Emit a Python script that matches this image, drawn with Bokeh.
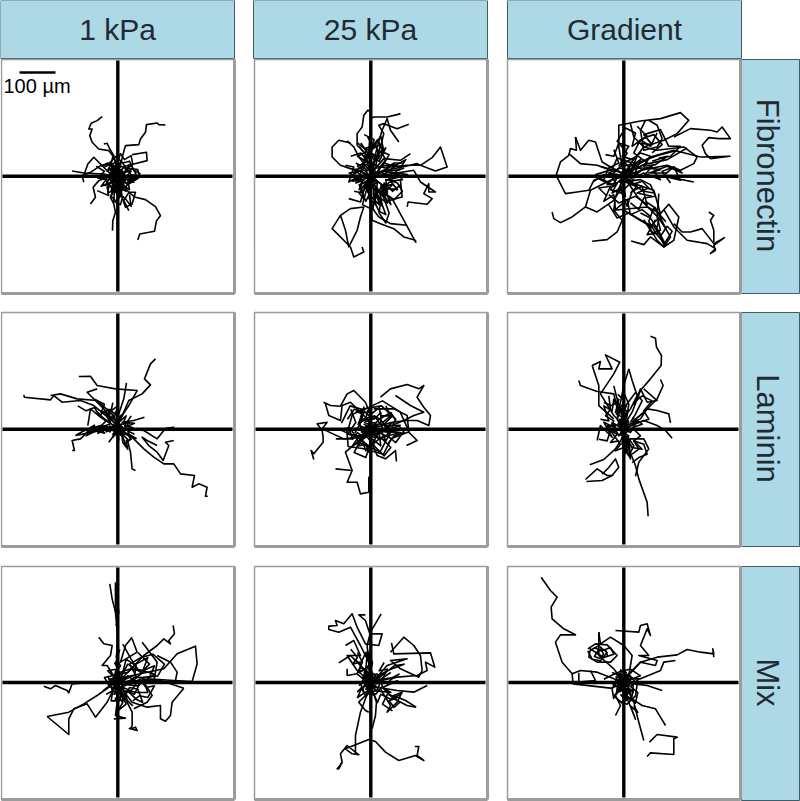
from bokeh.plotting import figure
from bokeh.models import Range1d
from bokeh.core.properties import value
from bokeh.embed import file_html
from bokeh.resources import INLINE

COLUMNS = ["1 kPa", "25 kPa", "Gradient"]
ROWS = ["Fibronectin", "Laminin", "Mix"]

# Track displacements from the start point; 108 units = 100 um, y grows downward
TRACKS_A = [
 [(-47,-179),(-62,-167),(-80,-159),(-87,-142),(-77,-142),(-84,-122),(-77,-102),(-57,-82),(-27,-77),(-12,-57),(0,-27),(5,0)],
 [(143,-154),(123,-155),(118,-160),(86,-155),(83,-132),(68,-112),(63,-95),(23,-92),(16,-67),(6,-27),(0,0)],
 [(60,191),(66,173),(110,165),(116,133),(128,118),(113,91),(83,70),(53,63),(33,48),(13,23),(0,0)],
 [(-16,163),(-15,133),(-7,108),(-12,83),(-22,63),(-7,33),(0,3)],
 [(-42,-97),(-32,-99),(-24,-82),(-12,-62),(-2,-17)],
 [(43,-65),(86,-72),(88,-47),(48,-37),(20,-30),(0,-5)],
 [(-137,-16),(-102,-10),(-42,-7),(0,3)],
 [(-102,-2),(-90,-37),(-72,-57),(-52,-37),(-27,-12),(-2,3)],
 [(-102,18),(-107,-2),(-82,-12),(-52,-32),(-22,-37),(0,-7)],
 [(-82,83),(-67,63),(-74,33),(-57,13),(-32,3),(0,0)],
 [(-62,43),(-27,58),(-32,33),(-12,3)],
 [(33,103),(18,73),(33,48),(53,48),(43,83),(23,93),(3,33)],
 [(68,-7),(43,-22),(8,-7),(40,8),(62,5),(30,25),(0,0)],
 [(-50,-30),(-30,-40),(-10,-20),(10,-30),(30,-20),(45,5),(25,30),(0,45),(-25,30),(-40,5),(-20,-10),(5,0)],
 [(-30,-35),(-5,-60),(15,-40),(35,-45),(50,-15),(60,5),(30,10),(5,-5)],
 [(0,70),(10,40),(20,15),(5,-20),(-15,-35),(-5,-5),(10,25),(-5,50),(-15,20),(-5,0)],
 [(-35,15),(-15,35),(-20,60),(-5,75),(12,55),(8,25),(-10,-10),(10,-45),(25,-25),(15,10)],
 [(-25,-25),(-5,15),(20,-10),(-8,-30),(-18,5),(5,30),(25,10),(12,-18),(-12,-12),(6,12)],
 [(-12,-20),(12,22),(-14,18),(14,-22),(-8,0),(8,8),(0,-30),(-3,28)],
 [(-20,5),(15,-8),(-10,-14),(5,20),(18,-2),(-16,12),(2,-16),(0,10)],
 [(-40,-28),(-20,-38),(-32,-15),(-12,-30),(-22,-5),(-5,-22),(-14,10),(8,-15),(-2,25),(14,-5),(10,35),(22,5)],
 [(-50,-5),(-28,12),(-38,28),(-15,18),(-20,45),(0,22),(5,60),(18,28),(35,40),(30,12),(48,18),(30,-5)],
 [(35,-35),(20,-12),(40,-15),(22,5),(52,-2),(38,20),(15,18),(25,45),(5,35),(12,-8)],
 [(-8,-45),(6,-18),(-18,-22),(-6,2),(-28,8),(-6,18),(-14,40),(4,25),(6,48),(12,12)],
 [(-65,-30),(-40,-15),(-60,5),(-35,10),(-50,30),(-25,20),(-30,50),(-10,40),(-12,75),(8,85),(15,60),(25,70),(40,90),(35,55)],
 [(-15,-60),(-20,-35),(0,-45),(8,-68),(20,-50),(40,-62),(45,-35),(28,-25),(60,-20),(65,0),(40,-5)],
 [(-10,-12),(12,8),(-8,14),(10,-12),(-14,-2),(14,2),(-2,-16),(2,18),(8,-8),(-8,8)],
 [(-6,-28),(8,-30),(-10,-5),(10,0),(-8,22),(6,32),(-4,48),(6,60)],
]
TRACKS_B = [
 [(5,0),(-6,-58),(-41,-93),(-41,-128),(-26,-148),(-21,-183),(-9,-198),(1,-193),(-1,-138),(-6,-78),(0,-20)],
 [(89,-188),(79,-185),(49,-178),(9,-178),(-1,-173)],
 [(114,-156),(79,-143),(39,-158),(24,-153),(39,-128),(29,-88),(9,-38),(0,0)],
 [(84,-103),(59,-138),(49,-173),(34,-138),(19,-88),(4,-18)],
 [(-61,-100),(-96,-108),(-116,-88),(-116,-58),(-91,-33),(-61,-23),(-30,-15),(0,0)],
 [(-71,-106),(-51,-88),(-36,-58),(-16,-33),(0,-10)],
 [(0,0),(49,-18),(139,-38),(149,-33),(194,-16),(229,-28),(209,-88),(184,-56),(149,-33),(109,-33),(59,-28),(0,0)],
 [(109,92),(112,77),(169,84),(184,67),(159,52),(174,22),(174,47),(194,47),(149,17),(129,-18),(69,-8),(0,0)],
 [(134,192),(135,198),(64,67),(19,42),(0,0)],
 [(134,192),(99,182),(69,157),(29,142),(4,132),(0,72),(0,0)],
 [(109,147),(59,142),(24,122),(9,102),(-10,40),(0,0)],
 [(-26,212),(-21,227),(-51,242),(-61,212),(-116,157),(-91,117),(-61,97),(-21,92),(-31,122),(-41,162),(-66,212),(-76,162),(-91,117)],
 [(-66,67),(-31,77),(-20,40),(0,0)],
 [(-30,-100),(-10,-70),(20,-110),(35,-80),(10,-50),(40,-70),(30,-120),(10,-90),(-15,-60),(-5,-20)],
 [(119,-68),(89,-48),(39,-53),(0,-8)],
 [(89,12),(94,62),(59,72),(29,22),(0,0)],
 [(-76,-33),(-51,-28),(-66,17),(-31,-3),(0,0)],
 [(-40,-100),(-15,-80),(-20,-45),(15,-95),(25,-55),(-5,-30),(0,10)],
 [(-20,70),(-35,50),(-10,30),(-25,85),(5,100),(15,60),(35,90),(25,40),(60,85),(40,30),(0,0)],
 [(75,-5),(40,35),(80,40),(55,10),(110,-5),(35,-15),(0,5)],
 [(-60,5),(-40,-15),(-65,-10),(-30,15),(-45,20),(-15,-5),(15,10),(-10,30),(5,-25),(-5,15)],
 [(-25,-10),(20,15),(-15,18),(12,-22),(-20,8),(22,-6),(0,-30),(-6,26),(10,-14)],
 [(-55,-5),(-25,-20),(-40,8),(-10,-10),(-30,25),(5,5),(-10,45),(20,15),(15,60),(35,25),(50,50),(45,10),(75,15)],
 [(-10,-120),(5,-90),(-15,-85),(10,-60),(-20,-50),(15,-35),(-10,-25),(25,-25),(45,-50),(30,-75),(55,-65),(35,-30)],
 [(-35,-90),(-20,-70),(-40,-60),(-15,-45),(-30,-25),(-5,-40),(0,-70),(20,-60),(15,-30)],
 [(90,25),(65,45),(40,20),(35,60),(15,30),(25,85),(-5,55),(-15,75),(-30,40),(-15,20)],
 [(55,-15),(85,-20),(105,-50),(70,-30),(40,-40),(20,-15),(60,0),(90,-10)],
 [(-50,45),(-25,50),(-35,25),(-10,40),(-18,15),(8,25),(10,75),(25,105),(45,115),(30,75),(12,35)],
 [(-20,-125),(10,-110),(0,-80),(30,-95),(20,-65),(45,-85),(25,-45),(-5,-60),(-25,-35),(-10,-15)],
 [(50,10),(80,20),(95,45),(70,70),(40,50),(65,25),(30,30),(50,80),(20,60),(5,25)],
 [(-45,-40),(-20,-25),(-50,-20),(-25,0),(-55,15),(-25,10),(-35,40),(-5,20)],
 [(100,-25),(75,-15),(95,10),(60,15),(45,-10),(80,-35),(30,-30),(15,5)],
 [(-15,-12),(15,10),(-12,14),(14,-12),(-16,2),(18,-2),(0,-18),(-2,18)],
 [(-10,50),(5,30),(-8,65),(15,85),(10,50),(30,70),(25,110),(45,140),(55,110),(30,40)],
 [(-60,-60),(-30,-70),(-10,-45),(-40,-30),(-15,-15),(20,-30),(45,-25),(70,-40),(95,-40)],
]
TRACKS_C = [
 [(0,0),(-15,-88),(-15,-153),(50,-166),(110,-173),(170,-191),(195,-168),(160,-128),(120,-108),(60,-88),(20,-38),(0,0)],
 [(150,-118),(200,-143),(260,-138),(280,-133),(295,-148),(320,-113),(285,-113),(255,-116),(235,-93),(245,-68),(260,-53),(318,-60),(230,-58),(150,-78),(80,-58),(0,-8)],
 [(65,-168),(50,-138),(60,-78),(100,-88),(115,-113),(100,-153),(75,-168)],
 [(20,-158),(30,-118),(60,-88),(100,-78),(180,-88),(220,-58),(210,-38),(170,-18),(130,-33),(60,-20),(0,0)],
 [(210,17),(160,7),(120,-3),(150,-28),(170,12),(120,0),(0,0)],
 [(-145,-118),(-142,-78),(-160,-83),(-165,-63),(-190,-43),(-203,-3),(-175,52),(-140,47),(-105,42),(-90,12),(-40,-8),(0,0)],
 [(-145,-118),(-130,-78),(-105,-108),(-85,-103),(-65,-43),(-40,-28),(0,-8)],
 [(-165,-68),(-130,-38),(-80,-33),(-40,-18)],
 [(-215,107),(-210,127),(-190,139),(-155,122),(-115,92),(-100,42),(-40,12),(0,0)],
 [(-115,92),(-80,107),(-30,72),(0,22)],
 [(-95,195),(-50,190),(-20,167),(-5,132),(-30,102),(-25,62),(0,0)],
 [(22,194),(60,205),(80,182),(120,212),(150,192),(165,122),(135,84),(110,112),(100,152),(70,142),(0,102),(0,0)],
 [(150,142),(175,167),(200,167),(235,157),(270,202),(302,184),(270,207),(275,222),(260,232),(275,217),(250,202),(190,192),(150,152),(120,100)],
 [(255,107),(270,117),(260,132),(270,162),(270,197)],
 [(70,142),(100,192),(120,212),(140,182),(110,130),(80,100),(40,60),(0,0)],
 [(105,52),(100,122),(110,162),(85,170),(60,130)],
 [(-30,102),(70,92),(110,112),(90,42),(30,22),(0,0)],
 [(160,-78),(100,-62),(40,-40),(0,0)],
 [(190,-85),(130,-50),(60,-35),(0,-5)],
 [(-30,-80),(-15,-40),(-45,-25),(-60,10),(-30,30),(0,0)],
 [(-70,-30),(-20,-15),(30,10),(-10,50),(-40,40),(-20,5),(20,-30),(50,-50),(30,0),(0,0)],
 [(100,-130),(80,-90),(50,-110),(30,-70),(70,-40),(30,-20),(5,10)],
 [(-45,55),(-15,80),(35,60),(70,85),(55,30),(25,45),(10,90),(-10,40),(-5,-15)],
 [(-25,-8),(22,12),(-12,18),(15,-20),(-18,5),(20,-5),(0,-25),(-5,22)],
 [(-90,15),(-60,-5),(-30,5),(-50,25),(-20,20),(-35,50),(-10,35),(5,60),(-5,10),(25,25),(55,15),(75,35),(40,50),(85,60)],
 [(140,20),(115,-15),(150,-28),(175,-10),(130,-30),(90,-15),(110,10),(60,-10),(30,5)],
 [(-55,-65),(-30,-60),(-15,-100),(15,-90),(-5,-60),(25,-50),(50,-70),(80,-60),(60,-30),(95,-35),(130,-60),(85,-45)],
 [(40,-150),(70,-120),(40,-100),(85,-95),(60,-125),(110,-140),(135,-90),(170,-90),(140,-60),(105,-55)],
 [(50,110),(80,125),(105,165),(125,205),(95,170),(75,135),(90,95),(125,135),(100,110)],
 [(-35,-5),(-10,-30),(25,-35),(55,-20),(85,-30),(60,0),(25,-10),(0,15),(35,30),(60,45),(90,50)],
 [(-50,60),(-75,35),(-40,30),(-60,75),(-30,55),(-25,100),(10,70),(20,115),(55,100),(80,120)],
 [(-80,5),(-50,20),(-85,-5),(-35,-20),(-20,-55),(10,-45),(40,-60),(25,-25),(70,-25),(110,-20),(75,-10),(130,-10)],
 [(-15,-30),(10,-70),(-20,-105),(5,-145),(35,-130),(25,-90),(60,-115),(90,-125),(115,-95),(85,-70)],
 [(20,50),(40,30),(15,15),(50,10),(80,25),(95,60),(60,65),(45,100),(20,80)],
 [(-45,85),(-20,125),(15,110),(45,130),(80,150),(105,125),(125,155),(95,95),(65,75)],
 [(90,150),(110,180),(130,150),(145,165),(120,205),(105,170),(70,175),(95,130)],
 [(-20,25),(-45,-10),(-10,-25),(25,-15),(0,-45),(35,-40),(15,-5),(50,-15),(20,5)],
]
TRACKS_D = [
 [(113,-211),(98,-196),(80,-151),(98,-133),(73,-106),(33,-86),(0,-11)],
 [(-282,-103),(-280,-96),(-202,-88),(-192,-101),(-167,-81),(-112,-86),(-72,-71),(0,-11)],
 [(-202,-101),(-172,-106),(-122,-91),(-62,-86),(-12,-41)],
 [(-117,-158),(-82,-159),(-62,-131),(-7,-121),(58,-116),(33,-71),(0,-21)],
 [(-62,-121),(-92,-111),(-42,-61),(0,-6)],
 [(26,-139),(18,-91),(-2,-31)],
 [(270,201),(263,201),(268,174),(243,164),(223,174),(230,139),(188,134),(168,104),(138,104),(108,84),(78,59),(48,29),(13,4)],
 [(168,34),(143,39),(153,49),(136,94),(118,69),(93,49),(73,24),(88,34),(118,49)],
 [(53,124),(43,119),(38,69),(28,29),(8,9)],
 [(143,-3),(168,-6),(138,4),(118,29),(78,4),(13,-1)],
 [(-137,64),(-130,64),(-137,34),(-112,29),(-82,-1),(0,-6)],
 [(-127,19),(-100,4),(-52,-11),(0,-1),(-52,4),(-102,14),(-127,19)],
 [(-90,-11),(-82,-61),(-52,-36),(-12,-11)],
 [(-27,39),(-12,19),(0,-1),(-20,30)],
 [(80,-36),(48,-26),(13,-21),(50,-18),(20,-5)],
 [(-2,59),(3,29),(0,0)],
 [(-60,-50),(-35,-25),(-55,-5),(-25,-15),(-15,-45),(0,-5)],
 [(40,-40),(20,-10),(45,-5),(10,5),(-25,-10),(-5,15),(25,15),(0,-25),(-10,-5)],
 [(-75,8),(-40,-8),(-75,-5),(-30,5),(-15,-10),(8,10)],
 [(-15,-15),(15,12),(-10,14),(12,-16),(-14,4),(16,-4),(0,-20),(-4,14)],
 [(-100,5),(-70,-12),(-85,10),(-50,-5),(-60,12),(-25,-5),(-35,8),(-5,-3)],
 [(-110,-2),(-80,8),(-95,20),(-65,5),(-40,12),(-55,-10),(-20,5)],
 [(-45,-35),(-22,-18),(-38,-48),(-12,-30),(-5,-55),(8,-25),(25,-40),(15,-15),(35,-20),(18,0)],
 [(-15,25),(-5,8),(15,22),(22,45),(38,30),(28,12),(55,28),(10,10)],
 [(-70,-90),(-40,-75),(-50,-50),(-20,-60),(-28,-30),(-8,-35)],
 [(-120,-70),(-95,-55),(-70,-65),(-55,-40),(-40,-55),(-25,-30),(-30,-60),(-5,-45)],
 [(-15,-80),(-20,-55),(0,-70),(-5,-30),(15,-45),(0,-15),(-10,-30)],
 [(-25,10),(-10,-12),(8,5),(-15,16),(5,-12),(12,10),(-5,20),(2,-8)],
 [(50,15),(30,5),(40,30),(25,35),(30,60),(15,40),(12,15)],
]
TRACKS_E = [
 [(29,-96),(59,-121),(109,-134),(144,-121),(159,-131),(139,-96),(159,-66),(179,-41),(174,-11),(139,-26),(109,-26),(60,-20),(0,0)],
 [(-142,-81),(-121,-71),(-91,-69),(-71,-106),(-51,-116),(-16,-81),(0,-41)],
 [(-136,-76),(-126,-41),(-91,-26),(-86,-71),(-61,-81),(-30,-50),(0,-20)],
 [(74,-101),(119,-71),(159,-51),(129,-41),(99,-26),(39,-1)],
 [(-171,91),(-179,64),(-171,74),(-143,39),(-143,24),(-146,4),(-161,-16),(-131,-21),(-146,-1),(-81,29),(0,19)],
 [(-106,119),(-56,124),(-71,159),(-41,159),(-31,194),(-6,189),(-6,144),(-3,189)],
 [(-56,124),(-76,69),(-41,39),(0,9)],
 [(77,97),(74,64),(44,89),(19,79),(-1,29)],
 [(107,49),(139,34),(114,9),(109,-41),(69,-61),(9,-61)],
 [(-70,8),(-55,-45),(-15,-62),(32,-70),(75,-30),(52,22),(28,68),(-35,40),(-62,-4)],
 [(-48,12),(-25,-30),(12,-40),(30,-28),(58,12),(22,32),(-5,52),(-30,30)],
 [(-88,-18),(-62,-70),(-22,-58),(35,-85),(88,-52),(115,8),(62,28),(38,75),(-25,58),(-68,52),(-72,0)],
 [(-85,5),(-30,30),(-50,70),(-15,85),(0,40),(40,80),(60,55),(30,25),(90,10),(0,5)],
 [(-105,29),(-60,29),(0,9)],
 [(-20,-20),(15,-35),(35,-5),(15,25),(-15,20),(-25,-5)],
 [(-25,5),(20,15),(-10,20),(15,-20),(-20,-15),(10,0),(-5,-22),(5,18)],
 [(-80,-2),(-40,-2),(0,2),(40,-1),(100,0),(60,8),(0,4)],
 [(-35,-10),(30,12),(-25,15),(25,-15),(-15,-8),(8,8)],
 [(-60,-60),(-45,-20),(-70,15),(-35,20),(-55,50),(-25,35),(-15,65),(5,30),(30,50),(25,10),(55,25),(40,-15),(65,-40),(30,-40),(25,-65),(-5,-40),(-25,-60),(-30,-25)],
 [(-45,-55),(-25,-45),(-38,-15),(-15,-30),(-10,-55),(10,-30),(30,-50),(30,-15),(55,-8),(32,8),(45,35),(15,20),(8,48),(-12,22),(-35,38),(-22,8)],
 [(-12,-12),(12,10),(-8,12),(10,-12),(-14,2),(14,-2),(-2,-14),(2,14)],
 [(-70,-30),(-50,-60),(-20,-50),(-30,-25),(-5,-30),(-5,5),(25,-30),(60,-50),(75,-25),(50,-10),(90,-12)],
 [(-90,5),(-65,-5),(-55,30),(-40,10),(-20,25),(0,12),(25,30),(50,20),(75,40),(95,12)],
 [(-20,-68),(-35,-20),(-20,20),(-38,50),(-15,45),(-5,70),(10,35)],
 [(45,-70),(60,-40),(35,-20),(60,0),(85,-10),(100,10),(70,20),(50,45)],
 [(-30,10),(-5,-15),(18,5),(-8,22),(22,-15),(-20,-5),(8,15)],
]
TRACKS_F = [
 [(80,-279),(95,-273),(98,-246),(113,-221),(112,-191),(80,-151),(50,-116),(25,-51),(0,-11)],
 [(-95,-191),(-70,-203),(-75,-181),(-35,-181),(-55,-223),(-12,-201),(-30,-166),(-70,-106),(-30,-41),(0,-10)],
 [(-95,-191),(-75,-131),(-75,-71),(-30,-31)],
 [(-135,-146),(-130,-131),(-80,-113),(-30,-106),(-15,-41)],
 [(110,-149),(118,-131),(100,-91),(60,-51),(25,-21)],
 [(140,-19),(135,-46),(100,-56),(70,-61),(50,-31),(10,-11)],
 [(145,27),(125,4),(100,-11),(60,-26),(10,-6)],
 [(15,-181),(25,-146),(40,-101),(20,-61),(-10,-21)],
 [(15,-181),(0,-131),(-20,-31)],
 [(60,-121),(100,-86),(70,-81),(50,-121),(30,-71)],
 [(73,261),(70,219),(45,149),(35,109),(15,59),(5,19)],
 [(-112,157),(-65,154),(-35,139),(-15,114),(-25,89),(-45,115),(-65,135)],
 [(-115,151),(-80,119),(-50,139),(-35,139)],
 [(-102,107),(-60,91),(-25,59),(0,19)],
 [(35,141),(45,99),(75,59),(60,29),(20,29),(5,49),(20,89),(15,29)],
 [(-80,34),(-70,-11),(-35,24),(-60,-21),(-20,-1)],
 [(-30,-130),(-20,-90),(-10,-60),(-20,-30),(-5,0),(10,-40),(15,-75),(0,-110)],
 [(-60,-80),(-35,-70),(-15,-90),(-25,-50),(5,-65),(-10,-25),(15,-20),(0,5)],
 [(5,40),(20,30),(5,65),(15,80),(30,50),(10,20),(-5,45),(0,0)],
 [(-8,-50),(8,-35),(-12,-10),(12,5),(-6,25),(10,45),(0,20),(-8,-15),(6,-50)],
 [(-15,-30),(14,-25),(-10,5),(15,20),(-5,40),(14,55),(3,15),(-10,-20)],
 [(-30,10),(-10,-5),(-35,-20),(-15,20),(20,-10),(40,-25),(20,10),(0,0)],
 [(-25,-75),(-5,-60),(-22,-45),(0,-35),(-18,-15),(5,-10),(-12,15),(10,28),(-2,52),(12,70)],
 [(-18,-105),(2,-85),(-12,-60),(12,-55),(-5,-30),(15,-5),(-5,10),(8,40),(18,55),(2,75)],
 [(-45,-100),(-40,-60),(-55,-40),(-30,-25),(-45,0),(-20,15),(-40,40),(-15,35)],
 [(60,-50),(35,-30),(55,-15),(25,-5),(50,20),(30,35),(55,60),(25,55),(10,30)],
 [(-5,-70),(8,-70),(-8,-45),(8,-40),(-8,-20),(8,-15),(-5,5),(5,10)],
 [(-70,-30),(-45,-25),(-60,-70),(-35,-55),(-30,-90),(-10,-50),(20,-90),(35,-110),(55,-85),(35,-45),(20,-20)],
 [(-75,30),(-50,35),(-40,5),(-25,-10),(-50,-10),(-25,25),(-10,45),(-25,65),(0,55)],
 [(30,-80),(55,-100),(85,-85),(60,-55),(75,-30),(45,-20),(25,-35)],
 [(25,75),(45,60),(30,35),(60,45),(70,75),(45,85),(25,100)],
]
TRACKS_G = [
 [(-24,-296),(-17,-251),(-7,-211),(0,-131),(-2,-51)],
 [(-7,-301),(-7,-211)],
 [(3,-296),(-7,-280),(3,-211),(-5,-170)],
 [(-2,-11),(138,-41),(178,-86),(233,-109),(238,-56),(223,-3),(168,-6),(100,-10),(0,0)],
 [(198,17),(163,59),(158,99),(143,116),(128,109),(128,69),(88,74),(43,59),(8,14)],
 [(198,17),(128,-6),(0,0)],
 [(166,-171),(170,-146),(153,-126),(158,-116),(138,-131),(118,-111),(78,-81),(0,0)],
 [(118,-81),(158,-61),(178,-31),(173,-6)],
 [(-57,-136),(-42,-116),(-17,-111),(-22,-81),(-47,-51),(-32,-51),(0,0)],
 [(43,-136),(23,-111),(8,-61),(58,-91),(43,-131)],
 [(-222,11),(-202,19),(-187,9),(-152,24),(-147,31),(-137,4),(-102,1)],
 [(-212,102),(-147,156),(-147,109),(-132,79),(-92,64),(-67,104),(-32,59),(-7,9)],
 [(-212,102),(-147,89),(-102,64),(-62,39),(-12,4)],
 [(-12,109),(23,107),(-7,99),(-2,59),(0,19)],
 [(33,137),(58,144),(53,134),(38,139),(43,129),(43,89),(23,49),(8,19)],
 [(48,79),(88,59),(103,39),(78,-1),(28,-1)],
 [(73,-121),(88,-101),(118,-61),(108,-1),(48,-21),(0,0)],
 [(60,-90),(95,-55),(70,-30),(30,-55),(0,0)],
 [(15,-115),(40,-70),(60,-40),(110,-25),(60,10),(15,5)],
 [(-10,-60),(5,-30),(35,-40),(80,-35),(45,-5),(0,0)],
 [(30,60),(20,25),(50,35),(65,5),(30,-20),(0,10)],
 [(-30,-20),(-18,15),(5,25),(20,-5),(-5,-25),(-22,0),(0,18),(12,-10)],
 [(-15,-15),(18,12),(-12,16),(14,-18),(-18,4),(15,-4),(0,-20),(-4,20)],
 [(-28,5),(0,40),(15,60),(0,85),(25,65),(10,30),(-5,-5)],
 [(-25,-12),(25,8),(-18,22),(20,-15),(-12,35),(10,25),(-8,50),(18,55),(5,30),(-5,0)],
 [(-30,8),(-5,-25),(30,-30),(55,-55),(90,-75),(75,-35),(110,-50),(95,-15),(50,-15),(20,5)],
 [(55,-20),(35,-55),(70,-75),(105,-85),(140,-55),(120,-20),(75,-15),(90,30),(60,30),(25,25)],
 [(0,-110),(-5,-75),(8,-50),(-6,-30),(6,-15),(-6,-60),(6,-100)],
 [(30,25),(55,50),(75,60),(60,20),(35,15),(20,45),(45,70)],
 [(-45,25),(-25,10),(-40,-15),(-15,-20),(-30,-35),(-5,-40),(-12,-10),(15,-30),(25,-70),(55,-50),(50,-20)],
 [(15,15),(40,25),(65,-10),(85,15),(110,10),(90,45),(65,40),(45,55)],
 [(-35,35),(-15,25),(-20,55),(5,55),(10,30),(25,50),(15,15)],
 [(-25,-10),(10,-18),(-12,12),(18,18),(-6,-25),(6,24),(-18,-2)],
]
TRACKS_H = [
 [(-16,-203),(-36,-203),(-16,-186),(-3,-146),(34,-146),(24,-111),(-16,-116),(-41,-166),(-56,-206),(-81,-176),(-106,-186),(-101,-171),(-126,-169),(-126,-159),(-96,-151),(-61,-166),(-31,-111),(-6,-61),(0,-11)],
 [(31,-206),(-1,-151),(-11,-111),(-6,-60),(0,0)],
 [(59,-91),(99,-136),(129,-111),(149,-81),(154,-36),(144,-16),(89,-41),(59,-66),(109,-71),(49,-51),(14,-11)],
 [(62,-119),(69,-86),(179,-89),(192,-46),(164,-61),(169,-36),(139,-21),(79,-16),(0,0)],
 [(169,9),(129,29),(79,24),(19,14)],
 [(136,74),(104,54),(69,39),(94,29),(79,59),(49,89),(59,69),(29,19)],
 [(136,74),(109,69),(69,49),(39,19)],
 [(-96,259),(-86,239),(-91,214),(-71,189),(-36,217),(-56,214),(-76,199),(-6,171),(14,177),(44,209),(84,234),(134,219),(159,234),(139,219),(144,192),(132,192)],
 [(-96,259),(-101,259),(-93,250),(-86,239)],
 [(-46,217),(-46,159),(-31,89),(-16,49),(0,9)],
 [(4,139),(14,99),(17,59),(4,19)],
 [(-6,89),(-16,84),(-36,59),(-16,39),(-6,19)],
 [(-96,-59),(-61,-81),(-21,-41),(0,-10)],
 [(-76,-111),(-51,-126),(-31,-81),(-71,-81),(-41,-36),(-10,-10)],
 [(-71,-41),(-71,-21),(-41,-26),(-11,-1)],
 [(-41,29),(-26,14),(-40,45),(-10,25),(0,0)],
 [(-40,-90),(-25,-60),(-40,-30),(-15,-40),(-10,-95),(5,-60),(-5,-20)],
 [(60,-30),(30,-10),(50,5),(80,-5),(35,15),(60,30),(15,25),(0,5)],
 [(-35,10),(-15,-20),(20,-25),(35,10),(15,35),(-20,30),(-30,5)],
 [(-25,-5),(20,15),(-15,20),(15,-20),(-20,10),(20,-5),(-3,-25),(3,25)],
 [(-18,-12),(15,10),(-10,15),(12,-14),(-15,3),(14,-3),(0,-15),(0,15)],
 [(-25,22),(-10,-10),(-20,-25),(10,-25),(28,0),(20,22),(0,30),(-15,10)],
 [(-12,-15),(12,12),(-16,12),(14,-10),(-18,-4),(18,4),(4,-18),(-2,18),(10,-14),(-10,14)],
 [(-8,-85),(4,-60),(-8,-40),(5,-30),(-10,-15),(8,-5)],
 [(-50,-70),(-30,-55),(-35,-30),(-12,-45),(-20,-15),(0,-25)],
 [(20,-10),(45,-30),(70,-50),(100,-55),(60,-40),(30,-25),(10,-5)],
 [(90,35),(60,50),(30,35),(20,60),(5,25),(-15,40),(-30,15)],
 [(-60,-100),(-40,-75),(-55,-55),(-28,-62),(-15,-90),(-5,-55),(-20,-30),(5,-25)],
 [(-30,-45),(-5,-30),(-25,-15),(0,-12),(-14,12),(6,14),(-6,32),(10,38)],
 [(88,58),(70,75),(55,55),(80,45),(50,35),(35,65),(65,85)],
 [(40,-60),(25,-35),(50,-40),(35,-10),(65,-15),(85,-25),(55,-5)],
]
TRACKS_I = [
 [(-248,-316),(-220,-276),(-200,-256),(-218,-226),(-215,-191),(-180,-161),(-145,-143),(-190,-143),(-205,-121),(-185,-61),(-155,-26),(-130,-36),(-80,-31),(-30,-11),(0,0)],
 [(-155,-26),(-152,4),(-40,17),(0,4)],
 [(-135,-29),(-135,-1),(-85,-6),(-100,-36)],
 [(270,-76),(267,-101),(270,-86),(230,-91),(190,-99),(160,-83),(100,-76),(50,-61),(10,-21)],
 [(155,-66),(120,-61),(110,-36),(50,-11),(20,-11)],
 [(-25,-156),(45,-151),(50,-171),(70,-176),(80,-141),(70,-161),(50,-111),(75,-81),(45,-81),(100,-66),(95,-51),(50,-61),(5,-11)],
 [(-108,-101),(-85,-116),(-50,-113),(-20,-81),(-40,-61),(-80,-61),(-105,-76),(-100,-101),(-70,-81)],
 [(-90,-105),(-65,-95),(-40,-105),(-30,-85),(-60,-75),(-85,-90)],
 [(-108,-95),(-95,-70),(-70,-65),(-50,-90),(-75,-110),(-95,-100)],
 [(-75,-151),(-70,-116),(-40,-136),(0,-111),(25,-81),(15,-21)],
 [(-75,-151),(-75,-81),(-30,-41),(-5,-6)],
 [(60,174),(45,119),(30,59),(10,19)],
 [(125,129),(110,104),(95,79),(55,69),(25,49)],
 [(70,222),(80,211),(150,216),(150,169),(160,164),(100,156),(77,179)],
 [(-25,99),(-10,69),(-25,39),(0,5)],
 [(115,24),(70,9),(30,4)],
 [(-30,50),(-35,20),(-20,-15),(15,-25),(40,5),(35,40),(10,65),(-15,55)],
 [(-22,30),(-15,-5),(10,-15),(28,10),(25,40),(5,55),(-10,35)],
 [(-20,-25),(15,-20),(-20,20),(22,25),(-8,-10),(12,45),(-15,10),(20,-5),(0,-35),(5,50)],
 [(-15,-10),(15,10),(-10,18),(12,-18),(-18,5),(16,-5),(2,-25),(-4,25)],
 [(30,70),(42,90),(20,70),(35,110),(15,60),(0,30)],
 [(-60,-10),(-30,-25),(-5,-35),(20,-40),(50,-20),(10,-5)],
 [(-25,-15),(-8,-30),(-18,8),(8,-18),(-12,28),(18,2),(5,40),(30,20),(20,55),(-5,20)],
 [(-28,10),(-5,-22),(25,-15),(-15,22),(20,32),(-8,5),(18,-8),(0,18)],
 [(-85,-85),(-70,-100),(-60,-85),(-72,-72),(-88,-78),(-78,-95),(-55,-98),(-48,-78)],
 [(-18,-5),(18,6),(-12,12),(14,-12),(-16,2),(16,-2),(0,-18),(0,18)],
 [(-35,-30),(-5,-18),(-32,5),(-10,20),(-30,40),(-5,62),(15,45),(35,62),(42,30),(20,12),(45,-10)],
 [(-12,-38),(8,-30),(-15,-8),(18,-5),(-8,15),(25,22),(5,38),(30,55)],
]

GRID_TRACKS = [[TRACKS_A, TRACKS_B, TRACKS_C], [TRACKS_D, TRACKS_E, TRACKS_F], [TRACKS_G, TRACKS_H, TRACKS_I]]

PANEL_X = [(1, 234), (254, 487), (507, 740)]
PANEL_Y = [(59, 293), (312, 546), (566, 799)]
CENTER_X = [117.3, 370.3, 623.3]
CENTER_Y = [175.8, 428.7, 682]
HEAD_X = [(0, 234), (253, 487), (507, 741)]
HEAD_Y = (0, 58)
SIDE_X = (741, 799)
SIDE_Y = [(59, 293), (312, 546), (566, 800)]
UNIT = 1 / 3
BLUE = "#add8e6"
EDGE = "#3f5c68"
GREY = "#9c9c9c"
INK = "#1f2c33"

p = figure(width=800, height=801, output_backend="svg", toolbar_location=None,
           x_range=Range1d(0, 800), y_range=Range1d(801, 0), min_border=0)
p.axis.visible = False
p.grid.visible = False
p.outline_line_color = None
p.background_fill_color = "white"
p.border_fill_color = "white"

FONT = value("Liberation Sans")

# strips
p.quad(left=[h[0] for h in HEAD_X], right=[h[1] for h in HEAD_X], top=[HEAD_Y[0]] * 3, bottom=[HEAD_Y[1]] * 3,
       fill_color=BLUE, line_color=EDGE, line_width=1)
p.quad(left=[SIDE_X[0]] * 3, right=[SIDE_X[1]] * 3, top=[s[0] for s in SIDE_Y], bottom=[s[1] for s in SIDE_Y],
       fill_color=BLUE, line_color=EDGE, line_width=1)
p.text(x=[(h[0] + h[1]) / 2 for h in HEAD_X], y=[29] * 3, text=COLUMNS, text_font=FONT, text_font_size="30px",
       text_color=INK, text_align="center", text_baseline="middle")
p.text(x=[sum(SIDE_X) / 2 - 3] * 3, y=[(s[0] + s[1]) / 2 - 1 for s in SIDE_Y], text=ROWS, angle=-1.5708, text_font=FONT,
       text_font_size="31px", text_color=INK, text_align="center", text_baseline="middle")

# panels
for r, (y0, y1) in enumerate(PANEL_Y):
    for c, (x0, x1) in enumerate(PANEL_X):
        cx, cy = CENTER_X[c], CENTER_Y[r]
        p.quad(left=[x0], right=[x1], top=[y0], bottom=[y1], fill_color="white", line_color=GREY, line_width=1.5)
        p.segment(x0=[x1, x0], y0=[y0, y1], x1=[x1, x1], y1=[y1, y1], line_color=GREY, line_width=3)
        p.segment(x0=[cx, x0 + 1], y0=[y0 + 1, cy], x1=[cx, x1 - 2], y1=[y1 - 2, cy], line_color="black", line_width=3.4)
        tracks = GRID_TRACKS[r][c]
        xs = [[cx + pt[0] * UNIT for pt in t] for t in tracks]
        ys = [[cy + pt[1] * UNIT for pt in t] for t in tracks]
        p.multi_line(xs=xs, ys=ys, line_color="black", line_width=1.6, line_join="round")

# scale bar: 100 um
BAR_UM = 100
BAR_X0 = 19
p.segment(x0=[BAR_X0], y0=[72], x1=[BAR_X0 + BAR_UM * 1.08 * UNIT], y1=[72], line_color="black", line_width=2.5)
p.text(x=[3], y=[85], text=["100 µm"], text_font=FONT, text_font_size="20px", text_color="black",
       text_align="left", text_baseline="middle")

open("out.html", "w").write(file_html(p, INLINE))
